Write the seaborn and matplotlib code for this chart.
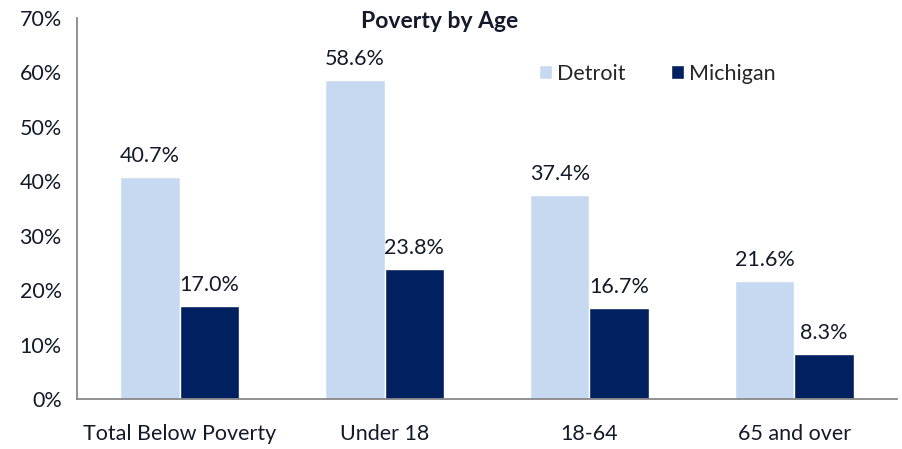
import matplotlib
matplotlib.use("Agg")
import matplotlib.pyplot as plt
import seaborn as sns
import pandas as pd

# Données
categories = ["Total Below Poverty", "Under 18", "18-64", "65 and over"]
detroit = [40.7, 58.6, 37.4, 21.6]
michigan = [17.0, 23.8, 16.7, 8.3]
series = ["Detroit", "Michigan"]
colors = ["#C6D9F1", "#002060"]

df = pd.DataFrame({
    "category": categories * 2,
    "value": detroit + michigan,
    "area": [series[0]] * 4 + [series[1]] * 4,
})

sns.set_style("white")
plt.rcParams["font.family"] = ["Lato", "DejaVu Sans"]
FS = 15.5
TXT = "#151a2a"

fig = plt.figure(figsize=(9.02, 4.49), dpi=100)
ax = fig.add_axes([0.0854, 0.1114, 0.909, 0.849])

sns.barplot(data=df, x="category", y="value", hue="area", order=categories,
            hue_order=series, palette=colors, width=0.58, ax=ax, saturation=1)

for cont in ax.containers:
    ax.bar_label(cont, labels=[f"{v:.1f}%" for v in cont.datavalues],
                 padding=8, fontsize=FS, color=TXT)

ax.set_ylim(0, 70)
ax.set_xlim(-0.5, 3.5)
ax.set_yticks(range(0, 71, 10))
ax.set_yticklabels([f"{v}%" for v in range(0, 71, 10)], fontsize=FS, color=TXT)
ax.tick_params(axis="x", labelsize=FS, colors=TXT, length=0, pad=18)
ax.tick_params(axis="y", length=5, color="#888888", direction="out", pad=6)
ax.set_xticks([-0.5, 0.5, 1.5, 2.5, 3.5], minor=True)
ax.tick_params(axis="x", which="minor", length=5, color="#888888", direction="out")
ax.set_xlabel("")
ax.set_ylabel("")

for s in ["top", "right"]:
    ax.spines[s].set_visible(False)
for s in ["left", "bottom"]:
    ax.spines[s].set_color("#888888")
    ax.spines[s].set_linewidth(1.3)

ax.legend(loc="upper left", bbox_to_anchor=(0.54, 0.93), ncol=2, frameon=False,
          fontsize=FS, handlelength=0.6, handleheight=0.6, handletextpad=0.25,
          columnspacing=2.1)

fig.text(440 / 902, 1 - 21 / 449, "Poverty by Age", ha="center", va="center",
         fontsize=16.5, fontweight="bold", color=TXT)

fig.savefig("out.png", dpi=100, facecolor="white")
